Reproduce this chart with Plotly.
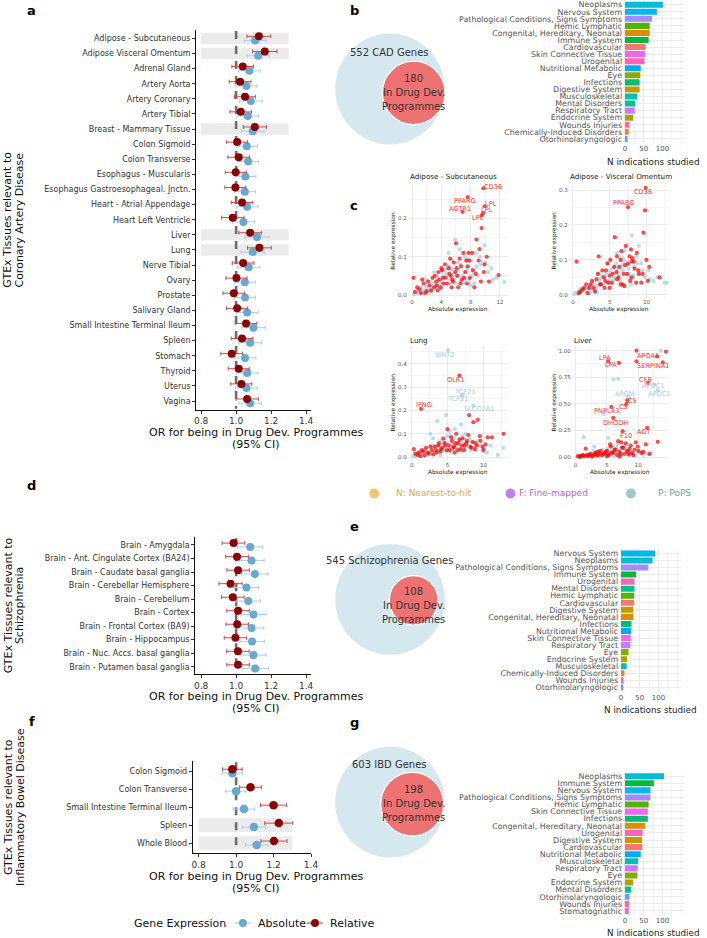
import math
import plotly.graph_objects as go

W, H = 707, 938
FONT = "DejaVu Sans"

# ------------------------------------------------------------------ data
cad_tissues = ["Adipose - Subcutaneous", "Adipose Visceral Omentum", "Adrenal Gland", "Artery Aorta",
               "Artery Coronary", "Artery Tibial", "Breast - Mammary Tissue", "Colon Sigmoid",
               "Colon Transverse", "Esophagus - Muscularis", "Esophagus Gastroesophageal. Jnctn.",
               "Heart - Atrial Appendage", "Heart Left Ventricle", "Liver", "Lung", "Nerve Tibial",
               "Ovary", "Prostate", "Salivary Gland", "Small Intestine Terminal Ileum", "Spleen",
               "Stomach", "Thyroid", "Uterus", "Vagina"]
cad_rel = [1.130, 1.164, 1.038, 1.023, 1.051, 1.027, 1.107, 1.006, 1.015, 0.998, 0.996, 1.034, 0.981,
           1.080, 1.133, 1.040, 1.002, 0.987, 1.006, 1.057, 1.034, 0.975, 1.015, 1.030, 1.063]
cad_rel_err = [0.068, 0.070, 0.062, 0.062, 0.060, 0.062, 0.066, 0.060, 0.062, 0.060, 0.060, 0.062, 0.064,
               0.064, 0.068, 0.062, 0.060, 0.062, 0.060, 0.062, 0.062, 0.062, 0.060, 0.060, 0.064]
cad_abs = [1.109, 1.126, 1.076, 1.059, 1.084, 1.067, 1.095, 1.061, 1.069, 1.053, 1.050, 1.063, 1.042,
           1.120, 1.095, 1.072, 1.050, 1.051, 1.063, 1.099, 1.080, 1.051, 1.063, 1.059, 1.080]
cad_abs_err = [0.062, 0.064, 0.062, 0.060, 0.065, 0.062, 0.064, 0.060, 0.060, 0.060, 0.060, 0.062, 0.062,
               0.068, 0.066, 0.064, 0.060, 0.060, 0.062, 0.068, 0.064, 0.062, 0.062, 0.062, 0.064]
cad_highlight = ["Adipose - Subcutaneous", "Adipose Visceral Omentum", "Breast - Mammary Tissue", "Liver", "Lung"]

scz_tissues = ["Brain - Amygdala", "Brain - Ant. Cingulate Cortex (BA24)", "Brain - Caudate basal ganglia",
               "Brain - Cerebellar Hemisphere", "Brain - Cerebellum", "Brain - Cortex",
               "Brain - Frontal Cortex (BA9)", "Brain - Hippocampus", "Brain - Nuc. Accs. basal ganglia",
               "Brain - Putamen basal ganglia"]
scz_rel = [0.985, 1.005, 1.011, 0.968, 0.981, 1.011, 1.006, 0.996, 1.010, 1.011]
scz_rel_err = [0.065, 0.065, 0.064, 0.066, 0.064, 0.064, 0.064, 0.064, 0.064, 0.064]
scz_abs = [1.080, 1.088, 1.107, 1.059, 1.069, 1.099, 1.088, 1.091, 1.099, 1.109]
scz_abs_err = [0.072, 0.072, 0.075, 0.070, 0.070, 0.072, 0.070, 0.070, 0.072, 0.075]
scz_highlight = []

ibd_tissues = ["Colon Sigmoid", "Colon Transverse", "Small Intestine Terminal Ileum", "Spleen", "Whole Blood"]
ibd_rel = [0.980, 1.077, 1.200, 1.228, 1.202]
ibd_rel_err = [0.052, 0.058, 0.070, 0.075, 0.070]
ibd_abs = [0.980, 1.000, 1.042, 1.095, 1.110]
ibd_abs_err = [0.055, 0.055, 0.058, 0.062, 0.060]
ibd_highlight = ["Spleen", "Whole Blood"]

or_ticks = [0.8, 1.0, 1.2, 1.4]
or_ticktext = ["0.8", "1.0", "1.2", "1.4"]

# therapeutic areas (alphabetical -> ggplot hue order)
areas = ["Cardiovascular", "Chemically-Induced Disorders", "Congenital, Hereditary, Neonatal",
         "Digestive System", "Endocrine System", "Eye", "Hemic Lymphatic", "Immune System",
         "Infections", "Mental Disorders", "Musculoskeletal", "Neoplasms", "Nervous System",
         "Nutritional Metabolic", "Otorhinolaryngologic", "Pathological Conditions, Signs Symptoms",
         "Respiratory Tract", "Skin Connective Tissue", "Stomatognathic", "Urogenital", "Wounds Injuries"]

cad_areas = ["Neoplasms", "Nervous System", "Pathological Conditions, Signs Symptoms", "Hemic Lymphatic",
             "Congenital, Hereditary, Neonatal", "Immune System", "Cardiovascular", "Skin Connective Tissue",
             "Urogenital", "Nutritional Metabolic", "Eye", "Infections", "Digestive System",
             "Musculoskeletal", "Mental Disorders", "Respiratory Tract", "Endocrine System",
             "Wounds Injuries", "Chemically-Induced Disorders", "Otorhinolaryngologic"]
cad_n = [101, 85, 72, 66, 66, 63, 55, 54, 52, 42, 41, 39, 39, 32, 27, 26, 22, 12, 10, 7]

scz_areas = ["Nervous System", "Neoplasms", "Pathological Conditions, Signs Symptoms", "Immune System",
             "Urogenital", "Mental Disorders", "Hemic Lymphatic", "Cardiovascular", "Digestive System",
             "Congenital, Hereditary, Neonatal", "Infections", "Nutritional Metabolic",
             "Skin Connective Tissue", "Respiratory Tract", "Eye", "Endocrine System", "Musculoskeletal",
             "Chemically-Induced Disorders", "Wounds Injuries", "Otorhinolaryngologic"]
scz_n = [91, 84, 73, 40, 36, 36, 35, 35, 33, 33, 28, 27, 26, 25, 20, 16, 15, 9, 7, 6]

ibd_areas = ["Neoplasms", "Immune System", "Nervous System", "Pathological Conditions, Signs Symptoms",
             "Hemic Lymphatic", "Skin Connective Tissue", "Infections", "Congenital, Hereditary, Neonatal",
             "Urogenital", "Digestive System", "Cardiovascular", "Nutritional Metabolic", "Musculoskeletal",
             "Respiratory Tract", "Eye", "Endocrine System", "Mental Disorders", "Otorhinolaryngologic",
             "Wounds Injuries", "Stomatognathic"]
ibd_n = [104, 77, 68, 68, 63, 61, 61, 54, 47, 46, 46, 42, 35, 34, 33, 22, 16, 12, 11, 10]

venn_labels = ["CAD Genes", "Schizophrenia Genes", "IBD Genes"]
venn_total = [552, 545, 603]
venn_dev = [180, 108, 198]

# scatter panels (absolute vs relative expression)
sub_blue_x = [0.3, 0.6, 1.0, 1.4, 1.8, 2.2, 2.5, 2.9, 3.2, 3.5, 3.8, 4.1, 4.4, 4.6, 4.9, 5.2, 5.5, 5.7, 5.9, 6.0,
              6.3, 6.6, 6.9, 7.2, 7.5, 7.8, 8.1, 8.4, 8.7, 9.0, 9.4, 9.9, 10.4, 11.0, 12.6, 3.0, 5.0, 6.5, 2.0, 4.0,
              1.2, 2.7, 3.6, 5.3, 7.0, 8.0,
              0.5, 0.9, 1.5, 1.9, 2.3, 2.6, 3.1, 3.4, 3.9, 4.2, 4.7, 5.1, 5.4, 5.8, 6.2, 6.7, 7.1, 7.6, 8.2, 8.8,
              9.3, 10.0, 10.8, 11.5, 2.8, 4.5, 6.0, 7.3, 8.5, 5.6]
sub_blue_y = [0.002, 0.005, 0.008, 0.010, 0.015, 0.020, 0.012, 0.030, 0.025, 0.045, 0.035, 0.060, 0.050, 0.030,
              0.070, 0.040, 0.090, 0.055, 0.145, 0.030, 0.065, 0.080, 0.050, 0.100, 0.070, 0.040, 0.090, 0.060,
              0.110, 0.050, 0.080, 0.130, 0.060, 0.040, 0.034, 0.060, 0.110, 0.120, 0.040, 0.015,
              0.020, 0.008, 0.020, 0.065, 0.030, 0.025,
              0.004, 0.012, 0.006, 0.022, 0.008, 0.035, 0.018, 0.050, 0.028, 0.040, 0.055, 0.075, 0.030, 0.045,
              0.085, 0.035, 0.060, 0.095, 0.050, 0.075, 0.100, 0.085, 0.070, 0.045, 0.015, 0.065, 0.050, 0.042,
              0.030, 0.068]
sub_red_x = [0.2, 0.7, 1.2, 1.6, 2.0, 2.4, 2.8, 3.0, 3.3, 3.6, 3.9, 4.2, 4.5, 4.8, 5.1, 5.4, 5.7, 6.0, 6.2, 6.5,
             6.8, 7.0, 7.3, 7.6, 7.9, 8.2, 8.5, 8.8, 9.1, 9.4, 9.5, 9.8, 10.2, 11.8, 5.5, 4.0, 6.6, 7.4,
             0.4, 1.0, 1.4, 1.8, 2.2, 2.6, 3.1, 3.4, 3.7, 4.1, 4.3, 4.6, 5.0, 5.3, 5.6, 5.9, 6.3, 6.7, 7.1, 7.5,
             7.8, 8.3, 8.7, 9.2, 9.9, 10.5, 3.5, 6.1, 7.7, 5.2]
sub_red_y = [0.045, 0.020, 0.005, 0.030, 0.010, 0.025, 0.045, 0.020, 0.035, 0.060, 0.020, 0.045, 0.080, 0.030,
             0.055, 0.020, 0.085, 0.135, 0.050, 0.095, 0.040, 0.110, 0.060, 0.075, 0.045, 0.110, 0.020, 0.145,
             0.090, 0.035, 0.175, 0.060, 0.100, 0.052, 0.040, 0.070, 0.030, 0.090,
             0.008, 0.015, 0.040, 0.005, 0.035, 0.012, 0.050, 0.025, 0.040, 0.065, 0.030, 0.045, 0.070, 0.050,
             0.035, 0.060, 0.020, 0.075, 0.045, 0.030, 0.090, 0.065, 0.055, 0.120, 0.080, 0.035, 0.012, 0.070,
             0.110, 0.095]
sub_lab = ["CD36", "PPARG", "AGTR1", "LPL", "LPL", "LPL"]
sub_lab_x = [9.75, 7.6, 6.9, 9.5, 9.7, 9.9]
sub_lab_y = [0.279, 0.256, 0.217, 0.208, 0.214, 0.232]
sub_lab_tx = [11.0, 7.2, 6.5, 9.0, 10.2, 10.8]
sub_lab_ty = [0.283, 0.246, 0.225, 0.202, 0.221, 0.239]
sub_lab_grp = ["r", "r", "r", "r", "r", "r"]

vis_blue_x = [0.2, 0.5, 0.9, 1.3, 1.7, 2.1, 2.5, 2.9, 3.3, 3.7, 4.1, 4.5, 4.9, 5.3, 5.6, 5.9, 6.2, 6.5, 6.8, 7.1,
              7.4, 7.7, 8.0, 8.3, 8.6, 8.9, 9.3, 9.8, 10.3, 11.0, 12.5, 3.5, 6.0, 4.8, 1.0, 2.3, 7.9, 9.0,
              0.4, 0.8, 1.2, 1.6, 2.0, 2.4, 2.8, 3.1, 3.5, 3.9, 4.3, 4.7, 5.1, 5.5, 5.8, 6.1, 6.4, 6.7, 7.0, 7.3,
              7.6, 8.2, 8.8, 9.5, 10.5, 11.5, 12.8, 3.0, 5.2, 6.8]
vis_blue_y = [0.002, 0.004, 0.008, 0.012, 0.010, 0.020, 0.015, 0.030, 0.025, 0.045, 0.030, 0.060, 0.040, 0.075,
              0.050, 0.090, 0.060, 0.100, 0.070, 0.130, 0.085, 0.050, 0.170, 0.080, 0.110, 0.060, 0.090, 0.050,
              0.070, 0.040, 0.035, 0.060, 0.120, 0.090, 0.018, 0.006, 0.030, 0.140,
              0.006, 0.003, 0.015, 0.020, 0.012, 0.028, 0.035, 0.018, 0.040, 0.055, 0.050, 0.035, 0.065, 0.045,
              0.080, 0.070, 0.040, 0.085, 0.095, 0.060, 0.075, 0.055, 0.090, 0.070, 0.045, 0.050, 0.035, 0.008,
              0.030, 0.105]
vis_red_x = [0.5, 1.0, 1.5, 2.0, 2.4, 2.8, 3.2, 3.5, 3.8, 4.2, 4.5, 4.8, 5.1, 5.4, 5.7, 6.0, 6.3, 6.6, 6.9, 7.2,
             7.5, 7.8, 8.1, 8.4, 8.7, 9.0, 9.3, 9.6, 9.8, 10.0, 10.2, 11.8, 6.5, 5.0, 7.0, 8.0,
             0.8, 1.3, 1.8, 2.2, 2.6, 3.0, 3.4, 3.7, 4.0, 4.4, 4.7, 5.0, 5.3, 5.6, 5.9, 6.2, 6.5, 6.8, 7.1, 7.4,
             7.7, 8.0, 8.3, 8.6, 8.9, 9.5, 10.4, 4.3, 6.0, 7.9]
vis_red_y = [0.095, 0.010, 0.020, 0.005, 0.030, 0.020, 0.045, 0.110, 0.030, 0.050, 0.070, 0.035, 0.100, 0.060,
             0.165, 0.045, 0.080, 0.125, 0.060, 0.140, 0.090, 0.040, 0.105, 0.075, 0.120, 0.060, 0.035, 0.178,
             0.242, 0.100, 0.040, 0.050, 0.030, 0.020, 0.025, 0.095,
             0.005, 0.015, 0.030, 0.020, 0.040, 0.010, 0.060, 0.030, 0.070, 0.040, 0.090, 0.055, 0.035, 0.080,
             0.065, 0.050, 0.100, 0.030, 0.085, 0.060, 0.110, 0.050, 0.095, 0.035, 0.070, 0.060, 0.080, 0.020,
             0.110, 0.130]
vis_lab = ["CD36", "PPARG"]
vis_lab_x = [9.9, 7.5]
vis_lab_y = [0.306, 0.251]
vis_lab_tx = [9.5, 7.0]
vis_lab_ty = [0.293, 0.262]
vis_lab_grp = ["r", "r"]

lung_blue_x = [0.2, 0.6, 1.0, 1.4, 1.8, 2.2, 2.6, 3.0, 3.3, 3.6, 3.9, 4.2, 4.5, 4.8, 5.1, 5.4, 5.7, 6.0, 6.3, 6.6,
               6.9, 7.2, 7.5, 7.8, 8.1, 8.5, 9.0, 9.6, 10.5, 12.8, 12.0, 3.0, 5.5, 1.6, 4.0, 7.0,
               0.4, 0.8, 1.2, 1.7, 2.0, 2.4, 2.8, 3.2, 3.5, 3.8, 4.1, 4.4, 4.7, 5.0, 5.3, 5.6, 5.9, 6.2, 6.5,
               6.8, 7.1, 7.4, 7.7, 8.0, 8.3, 8.8, 9.3, 10.0, 11.0, 4.9]
lung_blue_y = [0.005, 0.010, 0.020, 0.015, 0.030, 0.010, 0.100, 0.040, 0.020, 0.155, 0.050, 0.030, 0.070, 0.180,
               0.040, 0.090, 0.060, 0.120, 0.050, 0.080, 0.140, 0.060, 0.100, 0.045, 0.080, 0.065, 0.030, 0.050,
               0.020, 0.040, 0.010, 0.080, 0.020, 0.005, 0.010, 0.025,
               0.002, 0.015, 0.008, 0.025, 0.035, 0.020, 0.050, 0.015, 0.045, 0.030, 0.070, 0.055, 0.025, 0.060,
               0.110, 0.035, 0.080, 0.045, 0.065, 0.030, 0.090, 0.040, 0.060, 0.070, 0.030, 0.045, 0.070, 0.035,
               0.050, 0.090]
lung_red_x = [0.3, 0.8, 1.2, 1.6, 2.0, 2.4, 2.8, 3.2, 3.5, 3.8, 4.1, 4.4, 4.7, 5.0, 5.3, 5.6, 5.9, 6.2, 6.5, 6.8,
              7.1, 7.4, 7.7, 8.0, 8.3, 8.6, 8.9, 9.2, 9.5, 9.9, 10.3, 11.2, 12.8, 6.0,
              0.5, 1.0, 1.4, 1.8, 2.2, 2.6, 3.0, 3.4, 3.7, 4.0, 4.3, 4.6, 4.9, 5.2, 5.5, 5.8, 6.1, 6.4, 6.7,
              7.0, 7.3, 7.6, 7.9, 8.2, 8.5, 8.8, 9.1, 9.6, 10.0, 10.6]
lung_red_y = [0.035, 0.010, 0.005, 0.025, 0.040, 0.015, 0.030, 0.045, 0.020, 0.060, 0.035, 0.080, 0.050, 0.120,
              0.030, 0.070, 0.045, 0.100, 0.060, 0.035, 0.080, 0.050, 0.070, 0.180, 0.040, 0.150, 0.060, 0.160,
              0.090, 0.045, 0.055, 0.085, 0.100, 0.020,
              0.015, 0.020, 0.030, 0.008, 0.020, 0.045, 0.012, 0.030, 0.050, 0.025, 0.040, 0.060, 0.030, 0.050,
              0.085, 0.040, 0.060, 0.030, 0.075, 0.050, 0.030, 0.060, 0.095, 0.045, 0.065, 0.035, 0.050, 0.070,
              0.030, 0.085]
lung_lab = ["IFNG", "OLR1", "WNT2", "TCF21", "TCF21", "SLCO2A1"]
lung_lab_x = [1.3, 6.65, 5.05, 7.0, 7.1, 8.6]
lung_lab_y = [0.207, 0.349, 0.457, 0.262, 0.268, 0.221]
lung_lab_tx = [1.75, 6.2, 4.6, 7.4, 6.4, 9.4]
lung_lab_ty = [0.222, 0.332, 0.439, 0.279, 0.247, 0.206]
lung_lab_grp = ["r", "r", "b", "b", "b", "b"]

liver_blue_x = [0.3, 0.7, 1.1, 1.3, 1.5, 1.9, 2.3, 2.7, 3.1, 3.5, 3.9, 4.3, 4.5, 4.7, 5.1, 5.2, 5.5, 5.9, 6.05,
                6.3, 6.8, 6.7, 7.1, 7.5, 7.9, 8.3, 8.8, 9.5, 10.3, 11.5, 13.6, 3.0, 2.0, 6.0,
                0.5, 0.9, 1.4, 1.8, 2.2, 2.6, 3.0, 3.4, 3.8, 4.2, 4.6, 5.0, 5.4, 5.8, 6.2, 6.6, 7.0, 7.4, 7.8,
                8.2, 8.6, 9.0, 9.8, 10.8, 12.0, 4.0, 6.5, 2.9, 8.0, 5.3]
liver_blue_y = [0.005, 0.010, 0.020, 0.188, 0.010, 0.030, 0.015, 0.040, 0.020, 0.050, 0.030, 0.070, 0.407, 0.040,
                0.080, 0.180, 0.050, 0.100, 0.728, 0.060, 0.735, 0.120, 0.040, 0.090, 0.050, 0.030, 0.060, 0.020,
                0.050, 0.030, 1.000, 0.100, 0.005, 0.010,
                0.002, 0.012, 0.005, 0.020, 0.025, 0.010, 0.030, 0.050, 0.020, 0.045, 0.030, 0.060, 0.025, 0.040,
                0.080, 0.035, 0.060, 0.020, 0.070, 0.045, 0.020, 0.035, 0.040, 0.020, 0.040, 0.010, 0.090, 0.060,
                0.110, 0.050]
liver_red_x = [0.4, 0.8, 1.2, 1.6, 2.0, 2.4, 2.8, 3.2, 3.6, 4.0, 4.4, 4.8, 5.2, 5.6, 6.0, 6.4, 6.8, 7.2, 7.6, 8.0,
               8.4, 8.8, 9.2, 9.6, 10.0, 10.5, 11.2, 13.1, 9.7, 9.7, 14.4, 5.0, 7.0,
               0.6, 1.0, 1.4, 1.8, 2.2, 2.6, 3.0, 3.4, 3.8, 4.2, 4.6, 5.0, 5.4, 5.8, 6.2, 6.6, 7.0, 7.4, 7.8,
               8.2, 8.6, 9.0, 9.4, 9.9, 10.8, 11.8, 3.5, 5.5, 7.3, 8.5]
liver_red_y = [0.010, 0.005, 0.020, 0.080, 0.010, 0.030, 0.015, 0.040, 0.020, 0.060, 0.030, 0.050, 0.020, 0.100,
               0.040, 0.070, 0.150, 0.030, 0.090, 0.130, 0.050, 0.110, 0.020, 0.140, 0.060, 0.040, 0.120, 0.144,
               1.000, 0.900, 0.990, 0.010, 0.005,
               0.005, 0.015, 0.010, 0.020, 0.025, 0.005, 0.030, 0.015, 0.040, 0.020, 0.035, 0.060, 0.030, 0.045,
               0.070, 0.020, 0.050, 0.090, 0.030, 0.060, 0.080, 0.040, 0.070, 0.100, 0.050, 0.030, 0.050, 0.120,
               0.140, 0.025]
liver_lab = ["APOA1", "SERPINA1", "LPA", "LPA", "CFB", "C5", "C5", "PNPLA3", "DHODH", "F10", "AGT", "APOM",
             "APOC1", "APOC1"]
liver_lab_x = [13.0, 13.9, 5.2, 6.9, 11.5, 8.25, 8.1, 5.7, 6.0, 7.5, 11.4, 8.4, 12.6, 13.1]
liver_lab_y = [0.947, 0.890, 0.900, 0.885, 0.697, 0.534, 0.500, 0.472, 0.369, 0.244, 0.275, 0.566, 0.680, 0.630]
liver_lab_tx = [11.6, 12.5, 4.7, 5.7, 11.2, 9.1, 7.7, 5.0, 6.4, 8.0, 10.9, 7.8, 12.4, 13.3]
liver_lab_ty = [0.947, 0.853, 0.930, 0.862, 0.728, 0.531, 0.469, 0.438, 0.322, 0.203, 0.234, 0.597, 0.665, 0.597]
liver_lab_grp = ["r", "r", "r", "r", "r", "r", "r", "r", "r", "r", "r", "b", "b", "b"]

method_labels = ["N: Nearest-to-hit", "F: Fine-mapped", "P: PoPS"]
method_dot = ["#F3C572", "#C57BF2", "#9FC9C7"]
method_txt = ["#E9A73A", "#B65CF0", "#5DA6A3"]

# ------------------------------------------------------------------ helpers
def hcl_hex(h, c=100.0, l=65.0):
    hr = math.radians(h)
    U, V = c * math.cos(hr), c * math.sin(hr)
    Y = ((l + 16) / 116) ** 3 if l > 8 else l / 903.3
    Xn, Yn, Zn = 0.95047, 1.0, 1.08883
    un = 4 * Xn / (Xn + 15 * Yn + 3 * Zn)
    vn = 9 * Yn / (Xn + 15 * Yn + 3 * Zn)
    u = U / (13 * l) + un
    v = V / (13 * l) + vn
    X = 9 * Y * u / (4 * v)
    Z = -X / 3 - 5 * Y + 3 * Y / v
    rgb = [3.240479 * X - 1.537150 * Y - 0.498535 * Z,
           -0.969256 * X + 1.875992 * Y + 0.041556 * Z,
           0.055648 * X - 0.204043 * Y + 1.057311 * Z]
    out = []
    for ch in rgb:
        ch = 12.92 * ch if ch <= 0.0031308 else 1.055 * ch ** (1 / 2.4) - 0.055
        out.append(max(0, min(255, int(round(ch * 255)))))
    return "#%02X%02X%02X" % tuple(out)


area_color = {a: hcl_hex(15 + 360 * i / len(areas)) for i, a in enumerate(areas)}


def fx(p):
    return p / W


def fy(p):
    return 1 - p / H


def dom_x(a, b):
    return [a / W, b / W]


def dom_y(top, bottom):
    return [1 - bottom / H, 1 - top / H]


def ax_names(idx):
    return ("x" if idx == 1 else f"x{idx}", "y" if idx == 1 else f"y{idx}",
            "xaxis" if idx == 1 else f"xaxis{idx}", "yaxis" if idx == 1 else f"yaxis{idx}")


fig = go.Figure()
layout_axes = {}
annotations = []
shapes = []

BLUE = "#67A9D3"
BLUE_ERR = "#A9D0EA"
RED = "#8B0000"
RED_ERR = "#CC4B4B"


def text(x, y, s, size=10, color="#222", xanchor="center", angle=0, bold=False):
    annotations.append(dict(x=fx(x), y=fy(y), xref="paper", yref="paper", text=f"<b>{s}</b>" if bold else s,
                            showarrow=False, xanchor=xanchor, yanchor="middle", textangle=angle,
                            font=dict(family=FONT, size=size, color=color)))


# ------------------------------------------------------------------ forest panels
def forest(idx, tissues, rel, rel_err, absv, abs_err, highlight, xdom, ydom, xr, dodge, msize):
    xa, ya, xk, yk = ax_names(idx)
    n = len(tissues)
    pos = list(range(n))
    for i, t in enumerate(tissues):
        if t in highlight:
            shapes.append(dict(type="rect", xref=xa, yref=ya, x0=0.8, x1=1.3, y0=i - 0.38, y1=i + 0.38,
                               fillcolor="#EBEBEB", line=dict(width=0), layer="below"))
    shapes.append(dict(type="line", xref=xa, yref=ya, x0=1.0, x1=1.0, y0=-0.5, y1=n - 0.5,
                       line=dict(color="#6E6E6E", width=2.6, dash="8px,7px"), layer="below"))
    fig.add_trace(go.Scatter(x=absv, y=[p + dodge for p in pos], mode="markers", xaxis=xa, yaxis=ya,
                             marker=dict(color=BLUE, size=msize),
                             error_x=dict(type="data", array=abs_err, color=BLUE_ERR, thickness=1, width=2),
                             showlegend=False, hoverinfo="skip"))
    fig.add_trace(go.Scatter(x=rel, y=[p - dodge for p in pos], mode="markers", xaxis=xa, yaxis=ya,
                             marker=dict(color=RED, size=msize),
                             error_x=dict(type="data", array=rel_err, color=RED_ERR, thickness=1, width=2),
                             showlegend=False, hoverinfo="skip"))
    layout_axes[xk] = dict(domain=dom_x(*xdom), range=xr, anchor=ya, tickvals=or_ticks, ticktext=or_ticktext,
                           showline=True, linecolor="#111", linewidth=1.1, ticks="outside", ticklen=3,
                           tickcolor="#333", showgrid=False, zeroline=False,
                           tickfont=dict(family=FONT, size=9, color="#333"))
    layout_axes[yk] = dict(domain=dom_y(*ydom), range=[n - 1 + 0.56, -0.56], anchor=xa, tickvals=pos,
                           ticktext=tissues, showline=True, linecolor="#111", linewidth=1.1, ticks="outside",
                           ticklen=3, tickcolor="#333", showgrid=False, zeroline=False,
                           tickfont=dict(family=FONT, size=8, color="#333"))


forest(1, cad_tissues, cad_rel, cad_rel_err, cad_abs, cad_abs_err, cad_highlight,
       (196.7, 313), (30, 410), [0.772, 1.428], 0.14, 8)
forest(2, scz_tissues, scz_rel, scz_rel_err, scz_abs, scz_abs_err, scz_highlight,
       (195.7, 313), (538, 675), [0.766, 1.428], 0.14, 8)
forest(3, ibd_tissues, ibd_rel, ibd_rel_err, ibd_abs, ibd_abs_err, ibd_highlight,
       (193.3, 313), (762, 854), [0.769, 1.4], 0.11, 8.5)

for yc, y1, y2, lab in [(220, 433, 445, "Coronary Artery Disease"), (606, 697, 709, "Schizophrenia"),
                        (808, 877, 889, "Inflammatory Bowel Disease")]:
    text(257, y1, "OR for being in Drug Dev. Programmes", size=11, color="#111")
    text(257, y2, "(95% CI)", size=11, color="#111")
    text(6, yc, "GTEx Tissues relevant to", size=11, color="#111", angle=-90)
    text(18, yc, lab, size=11, color="#111", angle=-90)


# ------------------------------------------------------------------ bar panels
def bars(idx, cats, vals, zero_px, top_px, spacing, title_y, title_x):
    xa, ya, xk, yk = ax_names(idx)
    n = len(cats)
    pos = list(range(n))
    scale = 0.38
    fig.add_trace(go.Bar(x=vals, y=pos, orientation="h", xaxis=xa, yaxis=ya, width=0.86,
                         marker=dict(color=[area_color[c] for c in cats], line=dict(width=0)),
                         showlegend=False, hoverinfo="skip"))
    left = zero_px - 5 * scale
    layout_axes[xk] = dict(domain=dom_x(left, left + 165 * scale), range=[-5, 160], anchor=ya,
                           tickvals=[0, 50, 100], ticktext=["0", "50", "100"], showgrid=True,
                           gridcolor="#EBEBEB", gridwidth=0.8, zeroline=False, showline=False, ticks="",
                           minor=dict(tickvals=[25, 75, 125, 150], showgrid=True, gridcolor="#F4F4F4", gridwidth=0.5),
                           tickfont=dict(family=FONT, size=7, color="#555"))
    layout_axes[yk] = dict(domain=dom_y(top_px - 0.6 * spacing, top_px + (n - 1 + 0.6) * spacing),
                           range=[n - 1 + 0.6, -0.6], anchor=xa, tickvals=pos, ticktext=cats, showgrid=True,
                           gridcolor="#EBEBEB", gridwidth=0.8, zeroline=False, showline=False, ticks="",
                           tickfont=dict(family=FONT, size=7.9, color="#555"))
    text(title_x, title_y, "N indications studied", size=8.8, color="#222")


bars(4, cad_areas, cad_n, 631, 4.7, 7.07, 162, 660)
bars(5, scz_areas, scz_n, 627, 554, 7.06, 711, 657)
bars(6, ibd_areas, ibd_n, 631, 777, 7.1, 934, 660)

# ------------------------------------------------------------------ venn diagrams
R_BIG = 55.5
venn_pos = [((393, 89), (417, 93), 53, 79), ((393, 600), (417, 601), 561, 592), ((393, 803), (415.5, 805), 765, 790)]
for k in range(3):
    (bx, by), (sx, sy), ty, ny = venn_pos[k]
    r_small = R_BIG * math.sqrt(venn_dev[k] / venn_total[k])
    shapes.append(dict(type="circle", xref="paper", yref="paper", x0=fx(bx - R_BIG), x1=fx(bx + R_BIG),
                       y0=fy(by + R_BIG), y1=fy(by - R_BIG), fillcolor="#D5E8EF", line=dict(width=0),
                       layer="below"))
    shapes.append(dict(type="circle", xref="paper", yref="paper", x0=fx(sx - r_small), x1=fx(sx + r_small),
                       y0=fy(sy + r_small), y1=fy(sy - r_small), fillcolor="#EE7272",
                       line=dict(color="white", width=1.2), layer="below"))
    text(bx, ty, f"{venn_total[k]} {venn_labels[k]}", size=10, color="#333")
    text(417, ny, str(venn_dev[k]), size=10, color="#333")
    text(417, ny + 14, "In Drug Dev.", size=10, color="#333")
    text(417, ny + 28, "Programmes", size=10, color="#333")


# ------------------------------------------------------------------ scatter panels
def scatter(idx, bxs, bys, rxs, rys, labs, lx, ly, ltx, lty, lgrp, xdom, ydom, xr, yr, xd, yd, yfmt,
            title, title_xy, ytitle_xy, xtitle_xy):
    xa, ya, xk, yk = ax_names(idx)
    fig.add_trace(go.Scatter(x=bxs + [lx[i] for i in range(len(labs)) if lgrp[i] == "b"],
                             y=bys + [ly[i] for i in range(len(labs)) if lgrp[i] == "b"],
                             mode="markers", xaxis=xa, yaxis=ya,
                             marker=dict(color="rgba(173,216,230,0.85)", size=4.2),
                             showlegend=False, hoverinfo="skip"))
    fig.add_trace(go.Scatter(x=rxs + [lx[i] for i in range(len(labs)) if lgrp[i] == "r"],
                             y=rys + [ly[i] for i in range(len(labs)) if lgrp[i] == "r"],
                             mode="markers", xaxis=xa, yaxis=ya,
                             marker=dict(color="rgba(255,0,0,0.7)", size=4.2),
                             showlegend=False, hoverinfo="skip"))
    for i, g in enumerate(labs):
        annotations.append(dict(x=ltx[i], y=lty[i], xref=xa, yref=ya, text=g, showarrow=False,
                                xanchor="center", yanchor="middle",
                                font=dict(family=FONT, size=6.6, color="#FF3030" if lgrp[i] == "r" else "#9CCFE0")))
    layout_axes[xk] = dict(domain=dom_x(*xdom), range=xr, anchor=ya, tickmode="linear", tick0=0, dtick=xd,
                           showgrid=True, gridcolor="#EBEBEB", gridwidth=0.7, zeroline=False, showline=False,
                           ticks="", minor=dict(dtick=xd / 2, showgrid=True, gridcolor="#F5F5F5", gridwidth=0.5),
                           tickfont=dict(family=FONT, size=5.5, color="#555"))
    layout_axes[yk] = dict(domain=dom_y(*ydom), range=yr, anchor=xa, tickmode="linear", tick0=0, dtick=yd,
                           tickformat=yfmt, showgrid=True, gridcolor="#EBEBEB", gridwidth=0.7, zeroline=False,
                           showline=False, ticks="",
                           minor=dict(dtick=yd / 2, showgrid=True, gridcolor="#F5F5F5", gridwidth=0.5),
                           tickfont=dict(family=FONT, size=5.5, color="#555"))
    text(title_xy[0], title_xy[1], title, size=7.2, color="#222", xanchor="left")
    text(ytitle_xy[0], ytitle_xy[1], "Relative expression", size=5.9, color="#222", angle=-90)
    text(xtitle_xy[0], xtitle_xy[1], "Absolute expression", size=5.9, color="#222")


scatter(7, sub_blue_x, sub_blue_y, sub_red_x, sub_red_y, sub_lab, sub_lab_x, sub_lab_y, sub_lab_tx, sub_lab_ty,
        sub_lab_grp, (411, 513), (185, 298), [-0.58, 13.16], [-0.007, 0.288], 4, 0.1, ".1f",
        "Adipose - Subcutaneous", (411, 177), (397, 241), (462, 310))
scatter(8, vis_blue_x, vis_blue_y, vis_red_x, vis_red_y, vis_lab, vis_lab_x, vis_lab_y, vis_lab_tx, vis_lab_ty,
        vis_lab_grp, (574, 675), (185, 298), [-0.58, 13.0], [-0.008, 0.315], 5, 0.1, ".1f",
        "Adipose - Visceral Omentum", (573, 177), (560, 241), (625, 310))
scatter(9, lung_blue_x, lung_blue_y, lung_red_x, lung_red_y, lung_lab, lung_lab_x, lung_lab_y, lung_lab_tx,
        lung_lab_ty, lung_lab_grp, (411, 513), (346, 461), [-0.55, 13.5], [-0.014, 0.477], 5, 0.1, ".1f",
        "Lung", (411, 341), (397, 403), (462, 473))
scatter(10, liver_blue_x, liver_blue_y, liver_red_x, liver_red_y, liver_lab, liver_lab_x, liver_lab_y,
        liver_lab_tx, liver_lab_ty, liver_lab_grp, (577, 675), (346, 461), [-0.63, 14.8], [-0.031, 1.047], 5,
        0.25, ".2f", "Liver", (577, 341), (560, 403), (626, 473))

# method legend under panel c
for (dx, tx), lab, dc, tc in zip([(377, 397), (515, 522), (637, 662)], method_labels, method_dot, method_txt):
    shapes.append(dict(type="circle", xref="paper", yref="paper", x0=fx(dx - 5), x1=fx(dx + 5),
                       y0=fy(494 + 5), y1=fy(494 - 5), fillcolor=dc, line=dict(width=0)))
    text(tx, 494, lab, size=9, color=tc, xanchor="left")

# gene expression legend at bottom
text(132, 924, "Gene Expression", size=11, color="#111", xanchor="left")
for cx, col, ecol, lab in [(244, BLUE, BLUE_ERR, "Absolute"), (317, RED, RED_ERR, "Relative")]:
    shapes.append(dict(type="line", xref="paper", yref="paper", x0=fx(cx - 8), x1=fx(cx + 8), y0=fy(924),
                       y1=fy(924), line=dict(color=ecol, width=1.2)))
    shapes.append(dict(type="circle", xref="paper", yref="paper", x0=fx(cx - 4), x1=fx(cx + 4),
                       y0=fy(928), y1=fy(920), fillcolor=col, line=dict(width=0)))
    text(cx + 13, 924, lab, size=11, color="#111", xanchor="left")

# panel letters
for lab, x, y in [("a", 30, 11), ("b", 357, 11), ("c", 357, 206), ("d", 30, 486), ("e", 357, 527),
                  ("f", 30, 722), ("g", 357, 723)]:
    text(x, y, lab, size=13, color="#000", bold=True)

fig.update_layout(width=W, height=H, margin=dict(l=0, r=0, t=0, b=0), paper_bgcolor="white",
                  plot_bgcolor="rgba(0,0,0,0)", font=dict(family=FONT), annotations=annotations,
                  shapes=shapes, showlegend=False, **layout_axes)

fig.write_html("out.html")
